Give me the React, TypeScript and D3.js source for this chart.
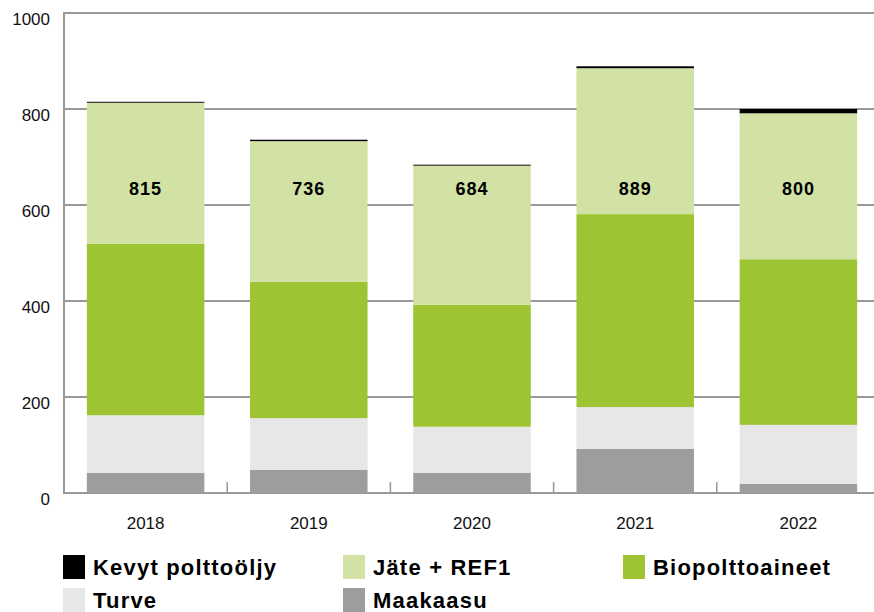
import * as d3 from "d3";

const years = ["2018", "2019", "2020", "2021", "2022"];
const maakaasu = [42, 48, 42, 92, 19];
const turve = [120, 108, 96, 87, 123];
const bio = [357, 284, 254, 402, 345];
const jate = [294, 293, 290, 304, 304];
const oljy = [2, 3, 2, 4, 9];
const totals = [815, 736, 684, 889, 800];
const yTicks = [0, 200, 400, 600, 800, 1000];

const seriesNames = ["Maakaasu", "Turve", "Biopolttoaineet", "Jäte + REF1", "Kevyt polttoöljy"];
const seriesValues = [maakaasu, turve, bio, jate, oljy];
const colors: Record<string, string> = {
  Maakaasu: "#9d9d9b",
  Turve: "#e7e7e7",
  Biopolttoaineet: "#9dc433",
  "Jäte + REF1": "#d2e1a4",
  "Kevyt polttoöljy": "#000000",
};
// legend rows as they appear
const legendRows = [
  ["Kevyt polttoöljy", "Jäte + REF1", "Biopolttoaineet"],
  ["Turve", "Maakaasu"],
];

const W = 874;
const H = 612;
const left = 64;
const bottom = 493;
const top = 13;

export default function App() {
  const x = d3
    .scaleBand<string>()
    .domain(years)
    .range([left, 880])
    .paddingInner(0.28)
    .paddingOuter(0.14);
  const y = d3.scaleLinear().domain([0, 1000]).range([bottom, top]);

  const rows = years.map((yr, i) => {
    const r: Record<string, any> = { year: yr };
    seriesNames.forEach((s, k) => (r[s] = seriesValues[k][i]));
    return r;
  });
  const stack = d3.stack<Record<string, any>>().keys(seriesNames)(rows);

  const step = x.step();
  const font = "'Liberation Sans', Arial, sans-serif";

  return (
    <svg
      width={W}
      height={H}
      style={{ position: "absolute", left: 0, top: 0, background: "#fff" }}
      fontFamily={font}
    >
      {/* gridlines */}
      {yTicks.map((t) => (
        <line key={t} x1={left} x2={W} y1={y(t)} y2={y(t)} stroke="#999" strokeWidth={2} />
      ))}
      <line x1={left} x2={left} y1={top - 1} y2={bottom + 1} stroke="#999" strokeWidth={2} />
      {/* category ticks */}
      {years.slice(1).map((yr) => (
        <line
          key={yr}
          x1={(x(yr) as number) - (step - x.bandwidth()) / 2}
          x2={(x(yr) as number) - (step - x.bandwidth()) / 2}
          y1={bottom - 11}
          y2={bottom}
          stroke="#999"
          strokeWidth={1.5}
        />
      ))}
      {/* bars */}
      {stack.map((layer) =>
        layer.map((d, i) => (
          <rect
            key={layer.key + i}
            x={x(years[i])}
            width={x.bandwidth()}
            y={y(d[1])}
            height={y(d[0]) - y(d[1])}
            fill={colors[layer.key]}
          />
        ))
      )}
      {/* totals */}
      {totals.map((v, i) => (
        <text
          key={i}
          x={(x(years[i]) as number) + x.bandwidth() / 2}
          y={y(620)}
          textAnchor="middle"
          fontSize={18}
          fontWeight="bold"
          letterSpacing={1}
        >
          {v}
        </text>
      ))}
      {/* y labels */}
      {yTicks.map((t) => (
        <text key={t} x={50} y={y(t) + 12} textAnchor="end" fontSize={17} fill="#111">
          {t}
        </text>
      ))}
      {/* x labels */}
      {years.map((yr) => (
        <text
          key={yr}
          x={(x(yr) as number) + x.bandwidth() / 2}
          y={529}
          textAnchor="middle"
          fontSize={17}
          fill="#111"
        >
          {yr}
        </text>
      ))}
      {/* legend */}
      {legendRows.map((row, ri) =>
        row.map((name, ci) => (
          <g key={name} transform={`translate(${63 + ci * 280},${555 + ri * 33})`}>
            <rect width={22} height={24} fill={colors[name]} />
            <text x={30} y={20} fontSize={22} fontWeight="bold" letterSpacing={1.2}>
              {name}
            </text>
          </g>
        ))
      )}
    </svg>
  );
}
